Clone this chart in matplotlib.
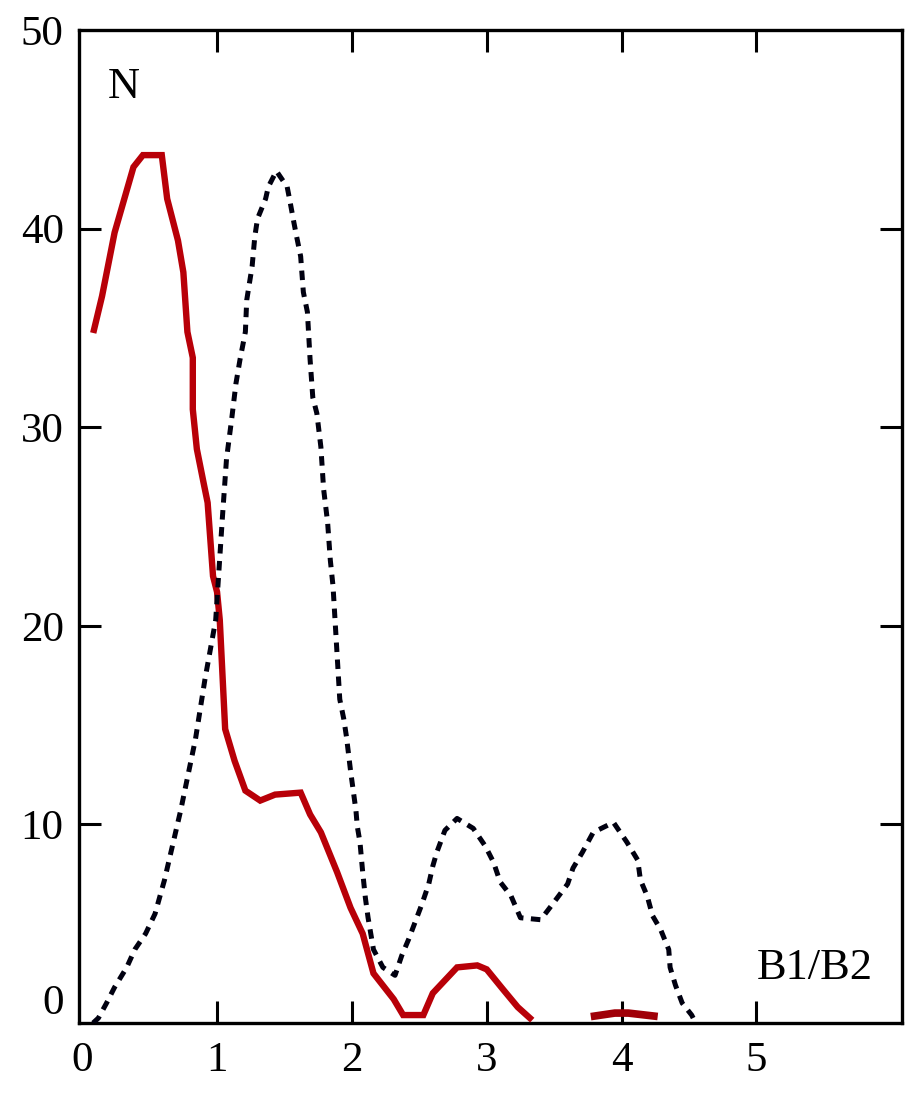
import numpy as np
import matplotlib
matplotlib.use("Agg")
import matplotlib.pyplot as plt

# Red solid curve (main segment) and small segment near x=4
red_x = [0.087, 0.147, 0.24, 0.38, 0.45, 0.59, 0.63, 0.71, 0.75, 0.78, 0.82, 0.82, 0.85,
         0.90, 0.93, 0.97, 1.00, 1.02, 1.06, 1.13, 1.21, 1.32, 1.43, 1.62, 1.69, 1.77,
         1.89, 1.99, 2.08, 2.16, 2.31, 2.38, 2.53, 2.60, 2.78, 2.93, 3.00, 3.12, 3.23, 3.32]
red_y = [34.9, 36.6, 39.8, 43.1, 43.7, 43.7, 41.5, 39.4, 37.8, 34.8, 33.5, 30.9, 28.9,
         27.2, 26.2, 22.5, 21.7, 20.3, 14.8, 13.2, 11.7, 11.2, 11.5, 11.6, 10.5, 9.6,
         7.6, 5.8, 4.5, 2.5, 1.2, 0.4, 0.4, 1.5, 2.8, 2.9, 2.7, 1.7, 0.8, 0.25]
red2_x = [3.80, 3.95, 4.05, 4.24]
red2_y = [0.35, 0.5, 0.5, 0.35]

# Black dashed curve
blk_x = [0.08, 0.12, 0.18, 0.24, 0.33, 0.39, 0.47, 0.54, 0.61, 0.73, 0.84, 0.91, 0.99,
         1.04, 1.07, 1.11, 1.14, 1.17, 1.21, 1.22, 1.26, 1.28, 1.30, 1.36, 1.38, 1.44,
         1.52, 1.54, 1.57, 1.59, 1.62, 1.64, 1.67, 1.69, 1.71, 1.74, 1.77, 1.79, 1.82,
         1.84, 1.86, 1.91, 1.94, 1.96, 1.99, 2.01, 2.03, 2.04, 2.06, 2.08, 2.10, 2.12,
         2.14, 2.16, 2.23, 2.32, 2.37, 2.42, 2.47, 2.52, 2.57, 2.60, 2.63, 2.69, 2.78,
         2.90, 2.99, 3.05, 3.10, 3.18, 3.25, 3.40, 3.49, 3.60, 3.64, 3.71, 3.79, 3.94,
         4.04, 4.12, 4.14, 4.19, 4.23, 4.29, 4.35, 4.36, 4.40, 4.45, 4.52, 4.55]
blk_y = [0.0, 0.25, 1.0, 1.8, 2.8, 3.7, 4.5, 5.5, 7.2, 10.7, 14.3, 17.3, 20.3,
         25.5, 28.4, 30.5, 32.2, 33.4, 34.8, 36.4, 38.1, 39.6, 40.5, 41.5, 42.1, 42.9,
         42.1, 41.4, 40.3, 39.6, 38.6, 36.8, 35.8, 33.4, 31.5, 30.7, 29.0, 26.9, 25.2,
         23.3, 22.0, 16.3, 15.3, 14.4, 12.7, 11.7, 10.7, 9.9, 9.1, 7.6, 6.3, 5.3,
         4.5, 3.7, 2.8, 2.4, 3.4, 4.2, 5.1, 6.0, 7.0, 7.9, 8.6, 9.7, 10.3,
         9.8, 8.9, 8.1, 7.1, 6.4, 5.3, 5.2, 6.0, 7.0, 7.8, 8.6, 9.6, 10.1,
         9.1, 8.2, 7.2, 6.4, 5.4, 4.7, 3.7, 2.8, 1.9, 1.0, 0.4, 0.0]

x_ticks = [0, 1, 2, 3, 4, 5]
y_ticks = [0, 10, 20, 30, 40, 50]

FONT = ["Liberation Serif", "DejaVu Serif"]

fig = plt.figure(figsize=(9.12, 10.95), dpi=100)
ax = fig.add_axes([79 / 912, 1 - 1023 / 1095, (902 - 79) / 912, (1023 - 30) / 1095])

ax.plot(red_x, red_y, color="#b80008", lw=4.6, solid_joinstyle="miter", zorder=3)
ax.plot(red2_x, red2_y, color="#a00008", lw=5.5, zorder=3)
ax.plot(blk_x, blk_y, color="#000010", lw=3.6, linestyle=(0, (1.9, 1.5)), zorder=4)

ax.set_xlim(-0.024, 6.08)
ax.set_ylim(0, 50)

ax.set_xticks(x_ticks)
ax.set_yticks(y_ticks)
ax.set_xticklabels([str(v) for v in x_ticks], fontfamily=FONT, fontsize=31)
ax.set_yticklabels([str(v) for v in y_ticks], fontfamily=FONT, fontsize=31)

ax.tick_params(axis="both", direction="in", length=16, width=2.2, color="black",
               top=True, right=True)
ax.tick_params(axis="x", pad=13)
ax.tick_params(axis="y", pad=11)

xt = ax.xaxis.get_major_ticks()
xt[0].tick1line.set_visible(False)
xt[0].tick2line.set_visible(False)
yt = ax.yaxis.get_major_ticks()
yt[0].tick1line.set_visible(False)
yt[0].tick2line.set_visible(False)
yt[-1].tick1line.set_visible(False)
yt[-1].tick2line.set_visible(False)
ax.get_yticklabels()[0].set_verticalalignment("bottom")

for s in ax.spines.values():
    s.set_linewidth(2.4)
    s.set_color("black")

ax.text(0.19, 46.6, "N", fontfamily=FONT, fontsize=32, ha="left", va="baseline")
ax.text(5.0, 2.2, "B1/B2", fontfamily=FONT, fontsize=32, ha="left", va="baseline")

fig.savefig("out.png", dpi=100, facecolor="white")
